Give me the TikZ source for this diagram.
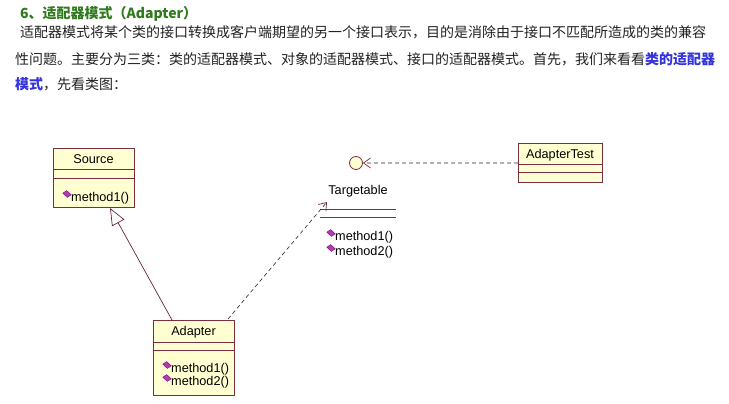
\documentclass[tikz,border=0pt]{standalone}
\usepackage{fontspec}
\setmainfont{Noto Sans CJK SC}
\newfontfamily\umlfont{Liberation Sans}
\usetikzlibrary{arrows.meta}
\definecolor{boxfill}{HTML}{FFFFD2}
\definecolor{boxline}{HTML}{7A2E3E}
\definecolor{titlegreen}{HTML}{2F7A1C}
\definecolor{linkblue}{HTML}{3333DD}
\definecolor{diamondfill}{HTML}{B53AB5}
\definecolor{diamondline}{HTML}{7A1A7A}
\definecolor{textgray}{HTML}{222222}
\begin{document}
\begin{tikzpicture}[x=1pt,y=-1pt,
  classbox/.style={draw=boxline, fill=boxfill, line width=0.9pt, inner sep=0pt, anchor=north west},
  sepline/.style={draw=boxline, line width=0.9pt},
  umltext/.style={inner sep=0pt, font=\fontsize{12.7}{14}\umlfont, text=black},
  bodytext/.style={inner sep=0pt, anchor=west, font=\fontsize{14}{16}\selectfont, text=textgray},
  depline/.style={draw=black!85, line width=0.6pt, dash pattern=on 4pt off 3pt},
  barb/.style={-{Straight Barb[length=7pt,width=10pt,line width=0.7pt,color=boxline]}},
  inherit/.style={draw=boxline!80!black, line width=0.7pt, -{Triangle[open,length=17pt,width=14pt,line width=0.7pt,fill=white]}},
  mdiamond/.pic={\filldraw[fill=diamondfill, draw=diamondline, line width=0.5pt] (-4.2,-0.8) -- (-0.3,-3.4) -- (4.2,0.8) -- (0.3,3.4) -- cycle;}
]
\useasboundingbox (0,0) rectangle (729,404);
\fill[white] (0,0) rectangle (729,404);

% ---- text ----
\node[bodytext] (title) at (20,14) {\bfseries\color{titlegreen}6、适配器模式（Adapter）};
\node[bodytext] (line1) at (20,32) {适配器模式将某个类的接口转换成客户端期望的另一个接口表示，目的是消除由于接口不匹配所造成的类的兼容};
\node[bodytext] (line2) at (15,59) {性问题。主要分为三类：类的适配器模式、对象的适配器模式、接口的适配器模式。首先，我们来看看{\bfseries\color{linkblue}类的适配器}};
\node[bodytext] (line3) at (15,84) {{\bfseries\color{linkblue}模式}，先看类图：};

% ---- Source ----
\node[classbox, minimum width=81pt, minimum height=59pt] (source) at (53,148) {};
\draw[sepline] (53,169) -- (134,169);
\draw[sepline] (53,178) -- (134,178);
\node[umltext] (sourcename) at (93.5,159) {Source};
\pic at (67,194) {mdiamond};
\node[umltext, anchor=west] (sourcem1) at (71,198) {method1()};

% ---- AdapterTest ----
\node[classbox, minimum width=84pt, minimum height=39pt] (atest) at (518,143) {};
\draw[sepline] (518,164) -- (602,164);
\draw[sepline] (518,172) -- (602,172);
\node[umltext] (atestname) at (560,155) {AdapterTest};

% ---- Targetable interface ----
\node[circle, draw=boxline, fill=boxfill, line width=0.8pt, minimum size=13pt, inner sep=0pt] (iface) at (356,163) {};
\node[umltext] (ifacename) at (358,191) {Targetable};
\draw[sepline] (320,209) -- (396,209);
\draw[sepline] (320,217) -- (396,217);
\pic at (331,233) {mdiamond};
\node[umltext, anchor=west] (ifacem1) at (335,237) {method1()};
\pic at (331,248) {mdiamond};
\node[umltext, anchor=west] (ifacem2) at (335,252) {method2()};

% ---- Adapter ----
\node[classbox, minimum width=81pt, minimum height=75pt] (adapter) at (153,320) {};
\draw[sepline] (153,342) -- (234,342);
\draw[sepline] (153,350) -- (234,350);
\node[umltext] (adaptername) at (193.5,332) {Adapter};
\pic at (167,365) {mdiamond};
\node[umltext, anchor=west] (adapterm1) at (171,369) {method1()};
\pic at (167,378) {mdiamond};
\node[umltext, anchor=west] (adapterm2) at (171,382) {method2()};

% ---- connectors ----
\coordinate (adtopA) at (172,320);
\coordinate (srcbot) at (110,208);
\coordinate (adtopB) at (228,319);
\coordinate (tgtip) at (327,202);
\draw[inherit] (adtopA) -- (srcbot);
\draw[depline, barb] (adtopB) -- (tgtip);
\draw[depline, barb] (atest.west) -- (iface.east);
\end{tikzpicture}
\end{document}
